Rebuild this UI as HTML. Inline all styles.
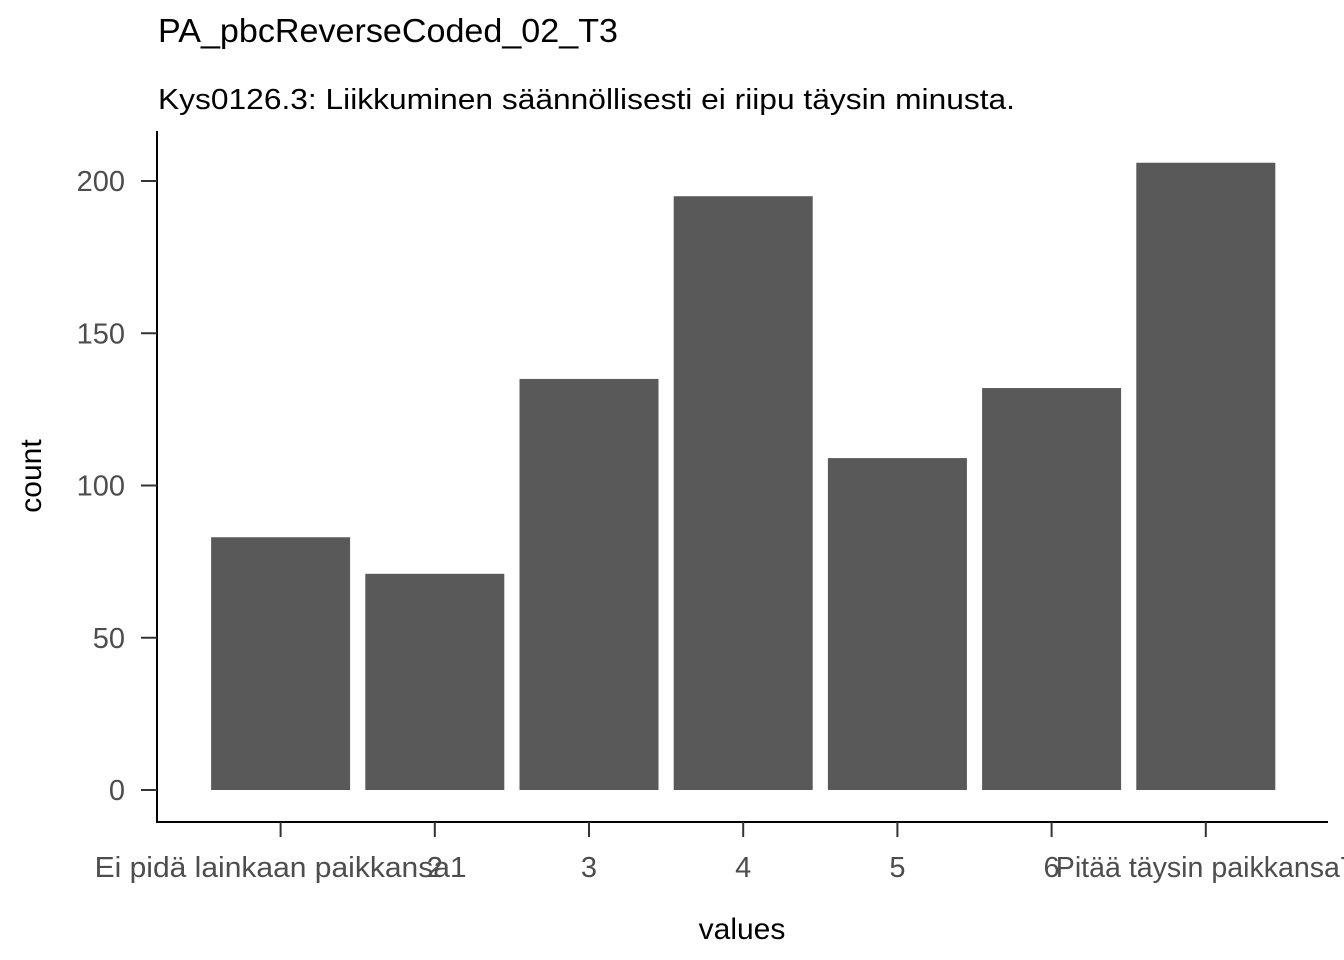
<!DOCTYPE html>
<html><head><meta charset="utf-8"><style>
body{margin:0;background:#fff;}
svg{display:block;font-family:"Liberation Sans",Arial,sans-serif;}
</style></head><body>
<svg id="chart" width="1344" height="960">
<text x="158" y="42" font-size="33" fill="#000" textLength="460" lengthAdjust="spacingAndGlyphs">PA_pbcReverseCoded_02_T3</text>
<text x="158" y="109" font-size="29" fill="#000" textLength="857" lengthAdjust="spacingAndGlyphs">Kys0126.3: Liikkuminen säännöllisesti ei riipu täysin minusta.</text>
<text transform="translate(41,476) rotate(-90)" text-anchor="middle" font-size="30" fill="#000">count</text>
<text x="742" y="939" text-anchor="middle" font-size="30" fill="#000">values</text>
<g id="bars"></g><g id="axes"></g>
</svg>
<script>
const categories=["Ei pidä lainkaan paikkansa1","2","3","4","5","6","Pitää täysin paikkansa7"];
const counts=[83,71,135,195,109,132,206];
const yTicks=[0,50,100,150,200];
const ns="http://www.w3.org/2000/svg";
const x0=203.5, step=154.2, bw=139;
function xc(i){return x0+step*(i+0.5);}
function y(v){return 790-v*3.045;}
const bars=document.getElementById('bars'), axes=document.getElementById('axes');
function mk(tag,attrs,parent){const e=document.createElementNS(ns,tag);for(const k in attrs)e.setAttribute(k,attrs[k]);parent.appendChild(e);return e;}
counts.forEach((v,i)=>{
 const r=mk('rect',{x:xc(i)-bw/2,y:y(v),width:bw,height:y(0)-y(v),fill:'#595959'},bars);
 
 
});
const ya=mk('line',{x1:157,y1:131,x2:157,y2:822,stroke:'#000','stroke-width':2},axes);


const xa=mk('line',{x1:156,y1:822,x2:1328,y2:822,stroke:'#000','stroke-width':2},axes);


yTicks.forEach(t=>{
 mk('line',{x1:141,x2:157,y1:y(t),y2:y(t),stroke:'#333','stroke-width':2},axes);
 const tx=mk('text',{x:125,y:y(t)+10,'text-anchor':'end','font-size':29,fill:'#4d4d4d'},axes);
 tx.textContent=t;
 
 
});
categories.forEach((c,i)=>{
 mk('line',{x1:xc(i),x2:xc(i),y1:822,y2:837,stroke:'#333','stroke-width':2},axes);
 const tx=mk('text',{x:xc(i),y:877,'text-anchor':'middle','font-size':29,fill:'#4d4d4d'},axes);
 if(c.length>3){tx.setAttribute('textLength',c.length>23?372:300);tx.setAttribute('lengthAdjust','spacingAndGlyphs');}
 tx.textContent=c;
 
 
});
</script>
</body></html>
